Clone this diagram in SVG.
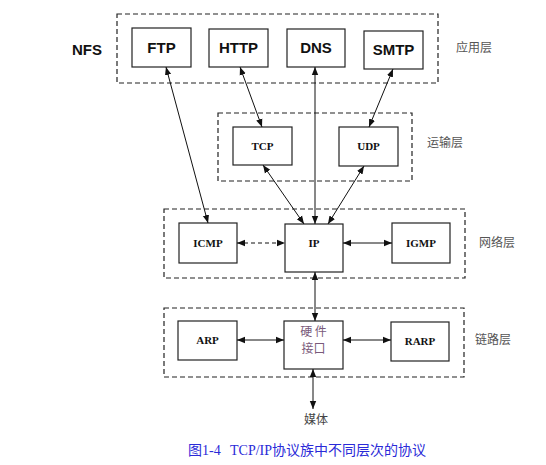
<svg xmlns="http://www.w3.org/2000/svg" width="546" height="465" viewBox="0 0 546 465">
<style>
.layer{fill:none;stroke:#222;stroke-width:1.2;stroke-dasharray:5,3}
.box{fill:#fff;stroke:#222;stroke-width:1.2}
.big{font-family:"Liberation Sans",Arial,sans-serif;font-weight:bold;font-size:15px;fill:#111;text-anchor:middle}
.small{font-family:"Liberation Serif","Times New Roman",serif;font-weight:bold;font-size:11px;fill:#111;text-anchor:middle}
.lbl{font-family:"Noto Sans CJK SC",sans-serif;font-size:12px;fill:#555}
.hw{font-family:"Noto Sans CJK SC",sans-serif;font-size:12px;fill:#7a5a7a;text-anchor:middle}
.con{stroke:#111;stroke-width:1;fill:none;marker-start:url(#ah);marker-end:url(#ah)}
</style>
<defs>
<marker id="ah" viewBox="0 0 10 10" refX="10" refY="5" markerWidth="8" markerHeight="8" markerUnits="userSpaceOnUse" orient="auto-start-reverse">
<path d="M0,1 L10,5 L0,9 Z" fill="#111"/>
</marker>
</defs>
<rect width="546" height="465" fill="#fff"/>
<g id="layers">
<rect class="layer" x="117" y="14" width="321" height="69"/>
<rect class="layer" x="218" y="113" width="194" height="68"/>
<rect class="layer" x="164" y="209" width="301" height="69"/>
<rect class="layer" x="164" y="308" width="300" height="69"/>
<text class="lbl" x="456" y="52">应用层</text>
<text class="lbl" x="427" y="147">运输层</text>
<text class="lbl" x="479" y="247">网络层</text>
<text class="lbl" x="475" y="344">链路层</text>
</g>
<text id="nfs" class="big" x="87" y="55" font-size="16">NFS</text>
<g id="ftp"><rect class="box" x="132" y="28" width="59" height="39"/><text class="big" x="161.5" y="53">FTP</text></g>
<g id="http"><rect class="box" x="209" y="29" width="59" height="38"/><text class="big" x="238.5" y="53">HTTP</text></g>
<g id="dns"><rect class="box" x="287" y="29" width="58" height="38"/><text class="big" x="316" y="53">DNS</text></g>
<g id="smtp"><rect class="box" x="364" y="31" width="59" height="38"/><text class="big" x="393.5" y="55">SMTP</text></g>
<g id="tcp"><rect class="box" x="233" y="127" width="59" height="38"/><text class="small" x="262.5" y="150">TCP</text></g>
<g id="udp"><rect class="box" x="339" y="127" width="59" height="39"/><text class="small" x="368.5" y="150">UDP</text></g>
<g id="icmp"><rect class="box" x="179" y="223" width="58" height="40"/><text class="small" x="208" y="247">ICMP</text></g>
<g id="ip"><rect class="box" x="285" y="224" width="58" height="48"/><text class="small" x="314" y="247">IP</text></g>
<g id="igmp"><rect class="box" x="392" y="223" width="58" height="40"/><text class="small" x="421" y="247">IGMP</text></g>
<g id="arp"><rect class="box" x="178" y="321" width="59" height="39"/><text class="small" x="207.5" y="344">ARP</text></g>
<g id="hw"><rect class="box" x="284" y="321" width="59" height="48"/>
<text class="hw" x="313.5" y="336">硬 件</text>
<text class="hw" x="313.5" y="353">接口</text></g>
<g id="rarp"><rect class="box" x="391" y="322" width="58" height="39"/><text class="small" x="420" y="345">RARP</text></g>
<g id="media"><text class="lbl" x="316" y="424" text-anchor="middle" style="fill:#444">媒体</text></g>
<g id="connectors">
<line class="con" x1="166" y1="67" x2="208" y2="223"/>
<line class="con" x1="240" y1="67" x2="262" y2="127"/>
<line class="con" x1="315" y1="67" x2="315" y2="224"/>
<line class="con" x1="393" y1="69" x2="369" y2="127"/>
<line class="con" x1="263" y1="165" x2="304" y2="224"/>
<line class="con" x1="364" y1="166" x2="328" y2="224"/>
<line class="con" x1="237" y1="243" x2="285" y2="243" stroke-dasharray="4,3"/>
<line class="con" x1="343" y1="243" x2="392" y2="243"/>
<line class="con" x1="315" y1="272" x2="315" y2="321"/>
<line class="con" x1="237" y1="340" x2="284" y2="340"/>
<line class="con" x1="343" y1="340" x2="391" y2="340"/>
<line class="con" x1="313" y1="369" x2="313" y2="409"/>
</g>
<text id="caption" y="455" font-family="Liberation Serif,'Noto Sans CJK SC',serif" font-size="14" fill="#2a2ad8"><tspan x="188">图1-4</tspan><tspan x="230">TCP/IP协议族中不同层次的协议</tspan></text>
</svg>
